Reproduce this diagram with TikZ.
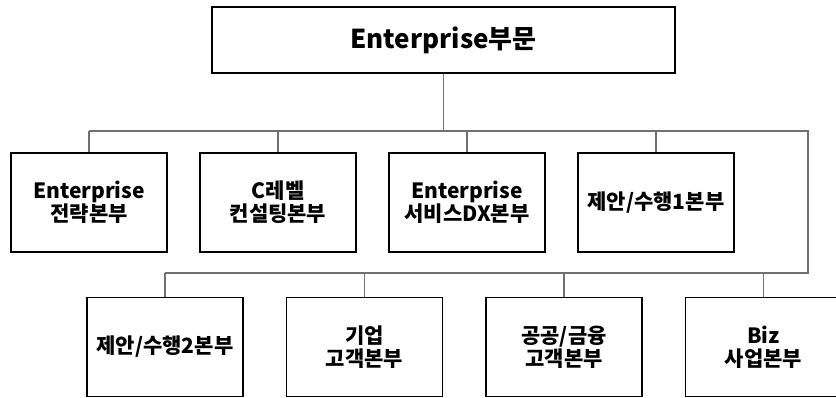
\documentclass[tikz,border=0pt]{standalone}
\usepackage{fontspec}
\setmainfont{Noto Sans CJK KR}
\usepackage{tikz}
\usetikzlibrary{positioning}
\definecolor{linkgray}{RGB}{112,112,112}

\begin{document}
\begin{tikzpicture}[x=1pt, y=-1pt, node distance=189pt, on grid,
	unit/.style={draw, line width=1.5pt, minimum width=156pt, minimum height=99pt,
		inner sep=0pt, align=center, font=\fontsize{21}{23}\selectfont\bfseries},
	head/.style={unit, minimum width=463pt, minimum height=66pt,
		font=\fontsize{26}{30}\selectfont\bfseries},
	link/.style={draw=linkgray, line width=1.2pt}]
	\useasboundingbox (0,0) rectangle (836,397);
	\node[head] (0) at (443.5,40) {Enterprise부문};
	\node[unit] (1) at (89,202.5) {Enterprise\\전략본부};
	\node[unit] (2) [right=of 1] {C레벨\\컨설팅본부};
	\node[unit] (3) [right=of 2] {Enterprise\\서비스DX본부};
	\node[unit] (4) [right=of 3] {제안/수행1본부};
	\node[unit] (5) at (165,347) {제안/수행2본부};
	\node[unit] (6) [right=199.5pt of 5] {기업\\고객본부};
	\node[unit] (7) [right=199.5pt of 6] {공공/금융\\고객본부};
	\node[unit] (8) [right=199.5pt of 7] {Biz\\사업본부};
	\coordinate (r1) at (808,131);
	\coordinate (r2) at (808,273);

	\path[link]
		(0.south) -- (0.south |- r1)
		(1.north |- r1) -- (r1) -- (r2) -- (5.north |- r2);
	\foreach \n in {1,...,4}
		\path[link] (\n.north) -- (\n.north |- r1);
	\foreach \n in {5,...,8}
		\path[link] (\n.north) -- (\n.north |- r2);
\end{tikzpicture}
\end{document}
